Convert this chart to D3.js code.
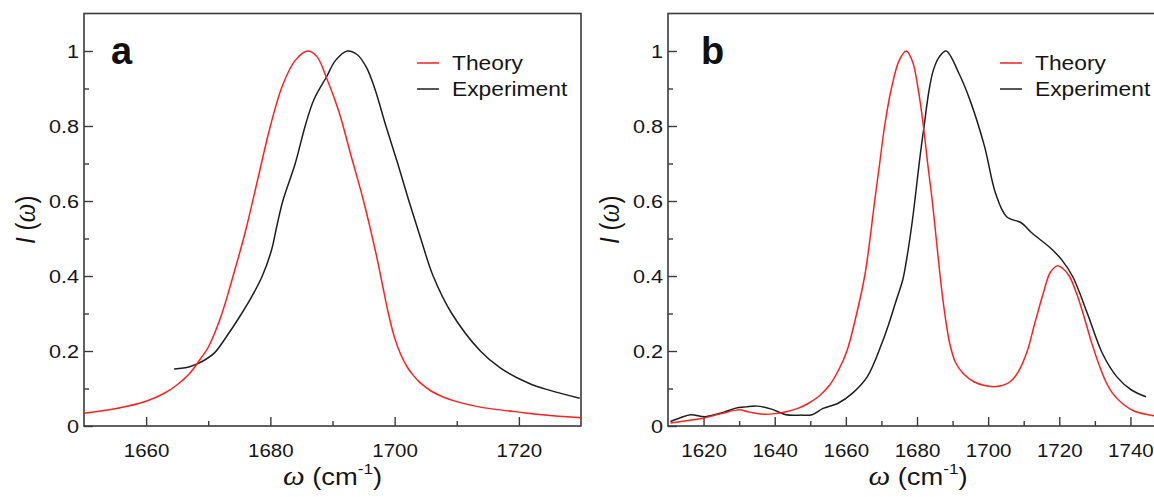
<!DOCTYPE html>
<html>
<head>
<meta charset="utf-8">
<script src="https://cdn.jsdelivr.net/npm/d3@7"></script>
<style>
  body { margin: 0; background: #fff; }
  svg { display: block; font-family: "Liberation Sans", Arial, sans-serif; }
</style>
</head>
<body>
<div id="chart"></div>
<script>
// ---- data: [wavenumber cm-1, normalised intensity] ----
const theoryA = [
  [1650, 0.034], [1655, 0.046], [1660, 0.066], [1663, 0.088], [1665, 0.11],
  [1667, 0.14], [1669, 0.185], [1670, 0.21], [1672, 0.29], [1674, 0.40],
  [1676, 0.52], [1678, 0.66], [1680, 0.80], [1682, 0.91], [1684, 0.975],
  [1686, 1.0], [1687.5, 0.985], [1689, 0.93], [1691, 0.84], [1693, 0.72],
  [1695, 0.60], [1697, 0.46], [1698, 0.38], [1699, 0.30], [1700, 0.235],
  [1701, 0.19], [1702, 0.158], [1703, 0.135], [1704, 0.117], [1706, 0.092],
  [1708, 0.076], [1710, 0.065], [1713, 0.053], [1716, 0.045], [1720, 0.037],
  [1725, 0.028], [1730, 0.022]
];
const experimentA = [
  [1664.5, 0.152], [1667, 0.158], [1669, 0.172], [1671, 0.195], [1673, 0.24],
  [1675, 0.29], [1677, 0.345], [1678.7, 0.40], [1680.2, 0.47], [1681, 0.53],
  [1682, 0.60], [1684, 0.70], [1685.6, 0.80], [1687, 0.87], [1689, 0.93],
  [1690.5, 0.975], [1692.4, 1.0], [1694, 0.99], [1695.5, 0.955], [1696.8, 0.90],
  [1698.6, 0.80], [1700.5, 0.70], [1702.3, 0.60], [1704.2, 0.50], [1706.2, 0.40],
  [1709.2, 0.30], [1713.8, 0.20], [1717, 0.155], [1721.6, 0.114], [1725, 0.095],
  [1729.8, 0.074]
];
const theoryB = [
  [1610.7, 0.008], [1615, 0.014], [1619.5, 0.02], [1625, 0.033], [1629.8, 0.043],
  [1633, 0.037], [1636, 0.032], [1640, 0.033], [1643.2, 0.038], [1646.5, 0.047],
  [1649.4, 0.06], [1652.5, 0.08], [1655.5, 0.11], [1658, 0.15], [1660.3, 0.20],
  [1662.8, 0.29], [1665.3, 0.40], [1666.8, 0.50], [1668.1, 0.60], [1669.5, 0.70],
  [1670.9, 0.80], [1672.8, 0.90], [1675, 0.975], [1677, 1.0], [1678.8, 0.97],
  [1680.3, 0.90], [1681.8, 0.80], [1683, 0.70], [1684.3, 0.60], [1685.4, 0.50],
  [1686.5, 0.40], [1687.8, 0.30], [1689.2, 0.22], [1690.8, 0.17], [1693, 0.14],
  [1696, 0.118], [1699, 0.108], [1701.6, 0.105], [1704, 0.108], [1706.2, 0.118],
  [1708.5, 0.145], [1711, 0.20], [1713, 0.27], [1715.5, 0.354], [1717.5, 0.41],
  [1719.5, 0.427], [1721, 0.42], [1722.8, 0.40], [1725, 0.35], [1727, 0.29],
  [1729, 0.225], [1731, 0.168], [1733, 0.12], [1735, 0.087], [1738, 0.058],
  [1741, 0.04], [1745, 0.03], [1750, 0.022]
];
const experimentB = [
  [1610.7, 0.012], [1613.5, 0.022], [1616.4, 0.03], [1620.5, 0.025], [1624.7, 0.034],
  [1628.8, 0.047], [1632, 0.051], [1635, 0.053], [1639.1, 0.045], [1643.2, 0.03],
  [1647, 0.029], [1650.5, 0.03], [1653.6, 0.047], [1657.7, 0.06], [1661.8, 0.087],
  [1666, 0.131], [1670.1, 0.22], [1672, 0.27], [1674.2, 0.336], [1676, 0.39],
  [1677, 0.44], [1678, 0.50], [1679, 0.57], [1680, 0.65], [1681, 0.73],
  [1682, 0.80], [1683.3, 0.89], [1684.6, 0.949], [1686.3, 0.985], [1688.2, 1.0],
  [1691.8, 0.94], [1694.9, 0.869], [1699, 0.745], [1702.1, 0.62], [1705.2, 0.558],
  [1709.3, 0.542], [1712.4, 0.514], [1717.6, 0.474], [1720.7, 0.443], [1723.8, 0.398],
  [1727.9, 0.30], [1732.1, 0.194], [1736.2, 0.131], [1740.3, 0.096], [1744.4, 0.078]
];

const xDomainA = [1650, 1730];
const xDomainB = [1610, 1750];
const xMajorA = [1660, 1680, 1700, 1720];
const xMinorA = [1670, 1690, 1710];
const xMajorB = [1620, 1640, 1660, 1680, 1700, 1720, 1740];
const xMinorB = [1630, 1650, 1670, 1690, 1710, 1730];
const yMajor = [0, 0.2, 0.4, 0.6, 0.8, 1];
const yMajorLabels = ["0", "0.2", "0.4", "0.6", "0.8", "1"];
const yMinor = [0.1, 0.3, 0.5, 0.7, 0.9];
const legendNames = ["Theory", "Experiment"];
const seriesColors = ["#ff1f1f", "#1e1e1e"];

// the glyphs in the source figure are drawn ~14% wider than they are tall
const SX = 1.14;

const svg = d3.select("#chart").append("svg")
  .attr("width", 1154)
  .attr("height", 497);

function stretched(g, x, y) {
  return g.append("text")
    .attr("transform", "translate(" + x + "," + y + ") scale(" + SX + ",1)");
}

/*
  Draws one panel: frame, inward ticks, both curves, legend, labels
*/
function drawPanel(p) {
  const width = p.right - p.left,
    height = p.bottom - p.top;

  const g = svg.append("g")
    .attr("transform", "translate(" + p.left + "," + p.top + ")");

  const x = d3.scaleLinear().domain(p.xDomain).range([0, width]);
  const y = d3.scaleLinear().domain([0, 1.1]).range([height, 0]);

  g.append("clipPath").attr("id", "clip-" + p.name)
    .append("rect").attr("width", width).attr("height", height);

  // x axis, ticks pointing into the plot
  const xAxis = g.append("g")
    .attr("transform", "translate(0," + height + ")")
    .call(d3.axisBottom(x).tickValues(p.xMajor).tickSizeInner(-9).tickSizeOuter(0)
      .tickPadding(18).tickFormat(d3.format("d")));
  xAxis.selectAll("text")
    .attr("transform", "scale(" + SX + ",1)")
    .style("font-size", "18px")
    .attr("fill", "#151515");
  g.append("g")
    .attr("transform", "translate(0," + height + ")")
    .call(d3.axisBottom(x).tickValues(p.xMinor).tickSizeInner(-5).tickSizeOuter(0).tickFormat(""));

  // y axis
  const yAxis = g.append("g")
    .call(d3.axisLeft(y).tickValues(yMajor).tickSizeInner(-9).tickSizeOuter(0)
      .tickPadding(5).tickFormat((d, i) => yMajorLabels[i]));
  yAxis.selectAll("text")
    .attr("x", -5 / SX)
    .attr("transform", "scale(" + SX + ",1)")
    .style("font-size", "19px")
    .attr("fill", "#151515");
  g.append("g")
    .call(d3.axisLeft(y).tickValues(yMinor).tickSizeInner(-5).tickSizeOuter(0).tickFormat(""));

  g.selectAll(".domain").remove();
  g.selectAll(".tick line").attr("stroke", "#3a3a3a").attr("stroke-width", 1.4);

  // frame
  g.append("rect")
    .attr("width", width)
    .attr("height", height)
    .attr("fill", "none")
    .attr("stroke", "#3a3a3a")
    .attr("stroke-width", 1.6);

  const line = d3.line()
    .x(d => x(d[0]))
    .y(d => y(d[1]))
    .curve(d3.curveCatmullRom.alpha(0.5));

  const curves = g.append("g").attr("clip-path", "url(#clip-" + p.name + ")");
  [p.experiment, p.theory].forEach(function(series, i) {
    curves.append("path")
      .datum(series)
      .attr("fill", "none")
      .attr("stroke", i === 0 ? seriesColors[1] : seriesColors[0])
      .attr("stroke-width", 1.5)
      .attr("stroke-linejoin", "round")
      .attr("d", line);
  });

  // legend
  legendNames.forEach(function(name, i) {
    const ly = 63 - p.top + i * 26;
    g.append("line")
      .attr("x1", width - p.legendOff - 35).attr("x2", width - p.legendOff - 13)
      .attr("y1", ly).attr("y2", ly)
      .attr("stroke", seriesColors[i])
      .attr("stroke-width", 1.5);
    stretched(g, width - p.legendOff, ly + 7)
      .style("font-size", "20px")
      .attr("fill", "#151515")
      .text(name);
  });

  // panel letter
  g.append("text")
    .attr("x", p.letterX)
    .attr("y", 64 - p.top)
    .style("font-size", "38px")
    .style("font-weight", "bold")
    .attr("fill", "#111")
    .text(p.name);

  // x title: ω (cm-1)
  const xt = stretched(g, p.titleX !== undefined ? p.titleX : width / 2, 485 - p.top)
    .attr("text-anchor", "middle")
    .style("font-size", "24px")
    .attr("fill", "#151515");
  xt.append("tspan").style("font-family", "'Liberation Serif', serif").style("font-style", "italic")
    .style("font-size", "27px").text("ω");
  xt.append("tspan").text(" (cm");
  xt.append("tspan").attr("dy", -11).style("font-size", "15px").text("-1");
  xt.append("tspan").attr("dy", 11).text(")");

  // y title: I (ω)
  const yt = g.append("text")
    .attr("transform", "translate(-49," + (height / 2) + ") rotate(-90) scale(1," + SX + ")")
    .attr("text-anchor", "middle")
    .style("font-size", "24px")
    .attr("fill", "#151515");
  yt.append("tspan").style("font-style", "italic").text("I");
  yt.append("tspan").text(" (");
  yt.append("tspan").style("font-family", "'Liberation Serif', serif").style("font-style", "italic")
    .style("font-size", "27px").text("ω");
  yt.append("tspan").text(")");
}

drawPanel({
  name: "a", left: 84, right: 581, top: 13.5, bottom: 426,
  xDomain: xDomainA, xMajor: xMajorA, xMinor: xMinorA,
  theory: theoryA, experiment: experimentA, letterX: 27, legendOff: 129
});
drawPanel({
  name: "b", left: 668, right: 1166, top: 13.5, bottom: 426,
  xDomain: xDomainB, xMajor: xMajorB, xMinor: xMinorB,
  theory: theoryB, experiment: experimentB, letterX: 33, titleX: 250, legendOff: 131
});
</script>
</body>
</html>
